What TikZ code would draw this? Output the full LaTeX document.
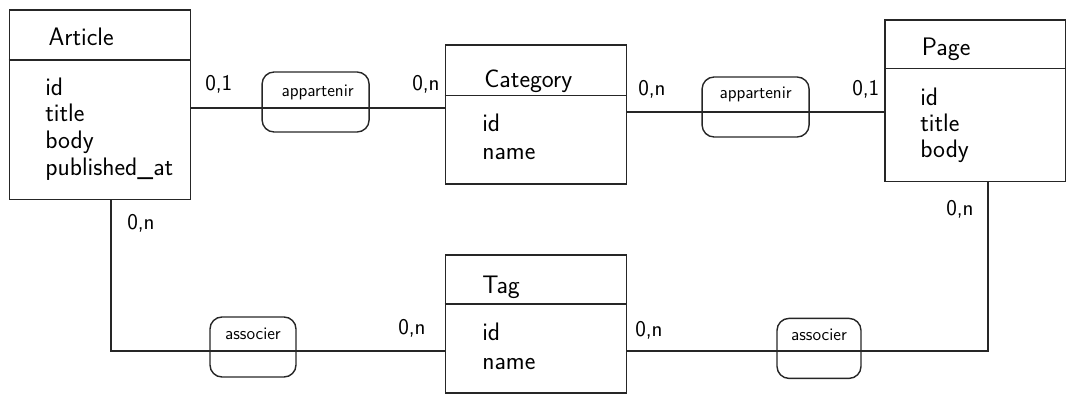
\documentclass[tikz,border=0pt]{standalone}
\usepackage{tikz}

\tikzset{
    entity/.style={draw=black!85, line width=1pt, rectangle, inner sep=0pt},
    relbox/.style={draw=black!85, line width=1pt, rounded corners=0.3cm, inner sep=0pt, minimum height=1.5cm},
    title/.style={anchor=base west, inner sep=0pt, font=\sffamily\fontsize{18}{20}\selectfont},
    attr/.style={anchor=base west, inner sep=0pt, font=\sffamily\fontsize{18}{20}\selectfont},
    reltext/.style={anchor=base, inner sep=0pt, font=\sffamily\fontsize{12.5}{14}\selectfont},
    card/.style={anchor=base west, inner sep=0pt, font=\sffamily\fontsize{16}{18}\selectfont},
    link/.style={draw=black!85, line width=1pt}
}

\begin{document}
\begin{tikzpicture}[]

    % Bounding box (same proportions as the reference)
    \useasboundingbox (0,0) rectangle (26.875,-10.075);

    % Article entity
    \node[entity, minimum width=4.53cm, minimum height=4.73cm] (article) at (2.5,-2.62) {};
    \draw[link] (article.west |- 0,-1.5) -- (article.east |- 0,-1.5);
    \node[title] (articletitle) at (1.21,-1.125) {Article};
    \node[attr] (articleid) at (1.125,-2.375) {id};
    \node[attr] (articletitle2) at (1.125,-3.04) {title};
    \node[attr] (articlebody) at (1.125,-3.71) {body};
    \node[attr] (articlepub) at (1.125,-4.375) {published\_at};

    % Category entity
    \node[entity, minimum width=4.53cm, minimum height=3.475cm] (category) at (13.395,-2.8625) {};
    \draw[link] (category.west |- 0,-2.39) -- (category.east |- 0,-2.39);
    \node[title] (categorytitle) at (12.1,-2.175) {Category};
    \node[attr] (categoryid) at (12.05,-3.29) {id};
    \node[attr] (categoryname) at (12.05,-3.98) {name};

    % Page entity
    \node[entity, minimum width=4.52cm, minimum height=4.04cm] (page) at (24.38,-2.52) {};
    \draw[link] (page.west |- 0,-1.71) -- (page.east |- 0,-1.71);
    \node[title] (pagetitle) at (23.04,-1.375) {Page};
    \node[attr] (pageid) at (23.0,-2.625) {id};
    \node[attr] (pagetitle2) at (23.0,-3.275) {title};
    \node[attr] (pagebody) at (23.0,-3.925) {body};

    % Tag entity
    \node[entity, minimum width=4.53cm, minimum height=3.45cm] (tag) at (13.395,-8.1) {};
    \draw[link] (tag.west |- 0,-7.6) -- (tag.east |- 0,-7.6);
    \node[title] (tagtitle) at (12.05,-7.325) {Tag};
    \node[attr] (tagid) at (12.05,-8.5) {id};
    \node[attr] (tagname) at (12.05,-9.225) {name};

    % Levels of the connectors
    \coordinate (l1) at (7.89,-2.7);
    \coordinate (l2) at (18.89,-2.8);
    \coordinate (c1) at (2.77,-8.775);
    \coordinate (c2) at (24.7,-8.775);

    % Article -- appartenir -- Category
    \draw[link] (article.east |- l1) -- (category.west |- l1);
    \node[relbox, minimum width=2.675cm] (appart1) at (7.89,-2.55) {};
    \node[reltext] (appart1text) at (7.94,-2.42) {appartenir};
    \node[card] (card1) at (5.125,-2.25) {0,1};
    \node[card] (card2) at (10.3,-2.25) {0,n};

    % Category -- appartenir -- Page
    \draw[link] (category.east |- l2) -- (page.west |- l2);
    \node[relbox, minimum width=2.675cm] (appart2) at (18.89,-2.675) {};
    \node[reltext] (appart2text) at (18.89,-2.45) {appartenir};
    \node[card] (card3) at (15.95,-2.375) {0,n};
    \node[card] (card4) at (21.3,-2.375) {0,1};

    % Article -- associer -- Tag
    \draw[link] (article.south -| c1) -- (c1) -- (tag.west |- c1);
    \node[relbox, minimum width=2.15cm] (assoc1) at (6.325,-8.675) {};
    \node[reltext] (assoc1text) at (6.325,-8.475) {associer};
    \node[card] (card5) at (3.175,-5.725) {0,n};
    \node[card] (card6) at (9.95,-8.35) {0,n};

    % Tag -- associer -- Page
    \draw[link] (tag.east |- c2) -- (c2) -- (page.south -| c2);
    \node[relbox, minimum width=2.1cm] (assoc2) at (20.475,-8.71) {};
    \node[reltext] (assoc2text) at (20.475,-8.5) {associer};
    \node[card] (card7) at (15.875,-8.4) {0,n};
    \node[card] (card8) at (23.65,-5.375) {0,n};

\end{tikzpicture}
\end{document}
